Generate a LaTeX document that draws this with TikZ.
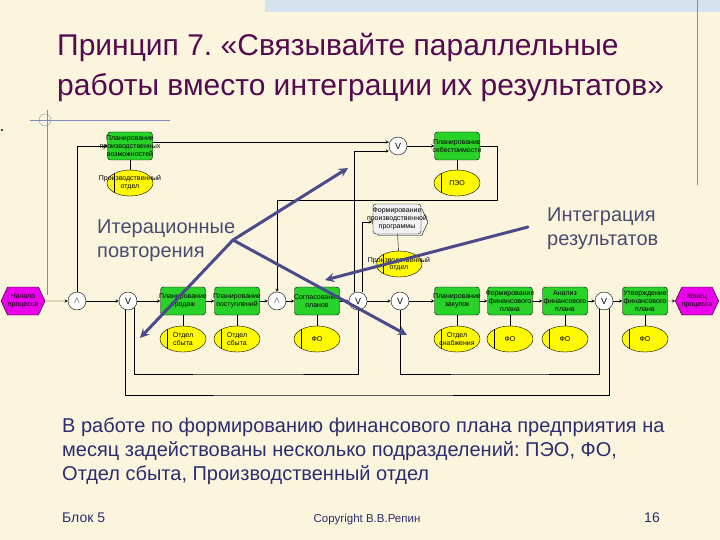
\documentclass[tikz,border=0pt]{standalone}
\usepackage{fontspec}
\setmainfont{Liberation Sans}
\frenchspacing
\usetikzlibrary{shapes.geometric,shapes.symbols}
\definecolor{slidebg}{RGB}{251,245,222}
\definecolor{bandblue}{RGB}{214,226,238}
\definecolor{decoblue}{RGB}{125,140,190}
\definecolor{titlecol}{RGB}{85,10,80}
\definecolor{bodycol}{RGB}{45,45,110}
\definecolor{notecol}{RGB}{75,75,112}
\definecolor{arrowblue}{RGB}{75,75,140}
\definecolor{funcgreen}{RGB}{40,210,40}
\definecolor{orgyellow}{RGB}{255,250,0}
\definecolor{evmag}{RGB}{235,0,235}
\newcommand\diagfont{\fontsize{7}{7.8}\selectfont}
\tikzset{
  lbl/.style={align=center, font=\diagfont, inner sep=0pt},
  func/.style={draw, rounded corners=3pt, fill=funcgreen, minimum width=45, minimum height=28, inner sep=0pt, label={[lbl]center:{#1}}},
  org/.style={ellipse, draw, fill=orgyellow, minimum width=46, minimum height=26, inner sep=0pt,
    path picture={\draw ([xshift=7pt]path picture bounding box.north west) -- ([xshift=7pt]path picture bounding box.south west);},
    label={[lbl]center:{#1}}},
  conn/.style={circle, draw, fill=white, minimum size=18, inner sep=0pt, font=\fontsize{9}{9}\selectfont},
  ev/.style={signal, signal to=west and east, signal pointer angle=130, draw, fill=evmag, minimum width=44, minimum height=28, inner sep=0pt, align=center, font=\diagfont},
  bigarrow/.style={draw=arrowblue, line width=3pt, ->},
  note/.style={anchor=north west, align=left, inner sep=0pt, text=notecol, font=\fontsize{20}{24}\selectfont}
}
\begin{document}
\begin{tikzpicture}[x=1pt, y=-1pt, >=stealth, line join=round, line cap=round, font=\diagfont]
\useasboundingbox (0,0) rectangle (720,540);
\fill[slidebg] (0,0) rectangle (720,540);
\fill[bandblue] (265,0) rectangle (720,12);
\draw[decoblue] (697,0) -- (697,185);
\draw[decoblue] (30,120) -- (170,120) (47,110) -- (47,295);
\draw[decoblue] (45,120) circle (6);
\fill (2,130) circle (1.2);
\node[anchor=base west, inner sep=0pt, text=titlecol, font=\fontsize{30}{34}\selectfont] (title1) at (57,56) {Принцип 7. «Связывайте параллельные};
\node[anchor=base west, inner sep=0pt, text=titlecol, font=\fontsize{30}{34}\selectfont] (title2) at (57,96) {работы вместо интеграции их результатов»};
% upper branch
\node[func={Планирование\\производственных\\возможностей}] (f1) at (130,146) {};
\node[org={Производственный\\отдел}] (o1) at (130,183) {};
\node[conn] (xor1) at (398,146) {V};
\node[func={Планирование\\себестоимости}] (f2) at (457,146) {};
\node[org={ПЭО}] (o2) at (457,183) {};
\node[signal, signal to=west and east, signal pointer angle=130, draw, fill=white!95!black, minimum width=56, minimum height=27] (pifhex) at (400,222) {};
\node[func={Формирование\\производственной\\программы}, fill=white!95!black, minimum width=48, minimum height=30] (pif) at (397,219) {};
\node[org={Производственный\\отдел}] (o3) at (399,264) {};
% main row
\node[ev] (start) at (23,301) {Начало\\процесса};
\node[conn] (and1) at (77,301) {$\wedge$};
\node[conn] (or1) at (128,301) {V};
\node[func={Планирование\\продаж}] (f3) at (183,301) {};
\node[func={Планирование\\поступлений}] (f4) at (237,301) {};
\node[conn] (and2) at (277,301) {$\wedge$};
\node[func={Согласование\\планов}] (f5) at (317,301) {};
\node[conn] (or2) at (358,301) {V};
\node[conn] (or3) at (400,301) {V};
\node[func={Планирование\\закупок}] (f6) at (457,301) {};
\node[func={Формирование\\финансового\\плана}] (f7) at (510,301) {};
\node[func={Анализ\\финансового\\плана}] (f8) at (565,301) {};
\node[conn] (or4) at (604,301) {V};
\node[func={Утверждение\\финансового\\плана}] (f9) at (645,301) {};
\node[ev, minimum width=40] (stop) at (697,301) {Конец\\процесса};
\node[org={Отдел\\сбыта}] (o4) at (183,339) {};
\node[org={Отдел\\сбыта}] (o5) at (237,339) {};
\node[org={ФО}] (o6) at (317,339) {};
\node[org={Отдел\\снабжения}] (o7) at (457,339) {};
\node[org={ФО}] (o8) at (510,339) {};
\node[org={ФО}] (o9) at (565,339) {};
\node[org={ФО}] (o10) at (645,339) {};
\foreach \a/\b in {start/and1, and1/or1, or1/f3, f3/f4, f4/and2, and2/f5, f5/or2, or2/or3, or3/f6, f6/f7, f7/f8, f8/or4, or4/f9, f9/stop, xor1/f2}
  \draw[->] (\a) -- (\b);
\foreach \f/\o in {f1/o1, f2/o2, pif/o3, f3/o4, f4/o5, f5/o6, f6/o7, f7/o8, f8/o9, f9/o10}
  \draw (\f) -- (\o);
\coordinate (loopR) at (497,200);
\coordinate (rA) at (300,395);
\coordinate (rB) at (250,374);
\coordinate (rC) at (500,374);
\draw[->] (and1) |- (f1);
\draw[->] ([yshift=4pt]f1.east) -- ([yshift=4pt]f1.east -| xor1.west);
\draw[->] ([xshift=-4pt]or2.north) |- ([yshift=-5pt]xor1.west);
\draw[->] ([xshift=4pt]or2.north) |- (pifhex.west);
\draw[->] (f2.east) -| (loopR) -| (and2);
\draw (or1.-110) |- (rA) -| (or4.-56);
\draw (or1.-48) |- (rB) -| (or2);
\draw (or3) |- (rC) -| (or4.-124);
% annotations
\node[note] (iter) at (97,220) {Итерационные\\повторения};
\node[note] (integ) at (547,208) {Интеграция\\результатов};
\coordinate (itJ) at (233,240);
\coordinate (itA) at (348,168);
\coordinate (itB) at (140,338);
\coordinate (itC) at (407,335);
\coordinate (irS) at (528,227);
\coordinate (irA) at (325,280);
\draw[bigarrow] (itJ) -- (itA);
\draw[bigarrow] (itJ) -- (itB);
\draw[bigarrow] (itJ) -- (itC);
\draw[bigarrow] (irS) -- (irA);
\node[anchor=north west, align=left, inner sep=0pt, text=bodycol, font=\fontsize{20}{24}\selectfont] (text) at (62,418) {В работе по формированию финансового плана предприятия на\\месяц задействованы несколько подразделений: ПЭО, ФО,\\Отдел сбыта, Производственный отдел};
\node[anchor=base west, inner sep=0pt, text=bodycol, font=\fontsize{14}{14}\selectfont] (blk) at (62,522) {Блок 5};
\node[anchor=base, inner sep=0pt, text=bodycol, font=\fontsize{11.5}{11.5}\selectfont] (copy) at (367,522) {Copyright В.В.Репин};
\node[anchor=base east, inner sep=0pt, text=bodycol, font=\fontsize{14}{14}\selectfont] (pg) at (660,522) {16};
\end{tikzpicture}
\end{document}
